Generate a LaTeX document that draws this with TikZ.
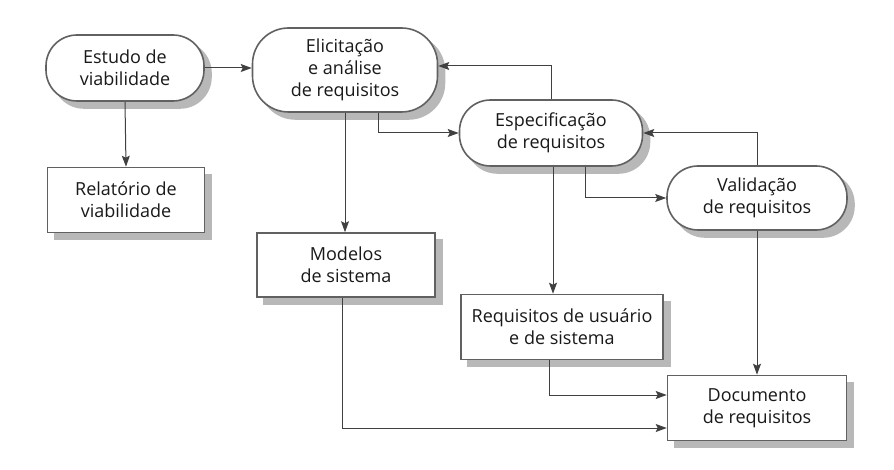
\documentclass[tikz,border=0pt]{standalone}
\usepackage{fontspec}
\setmainfont{Open Sans}
\usepackage{tikz}
\usetikzlibrary{arrows.meta}

\begin{document}
\begin{tikzpicture}[x=1pt,y=1pt,
    font=\fontsize{18}{22}\selectfont,
    shade box/.style={preaction={fill=black!28, draw=black!28, line width=1.6pt, transform canvas={xshift=7pt,yshift=-7pt}}},
    proc/.style={shade box, draw=black!62, line width=1.6pt, fill=white, text=black!90, align=center, rounded corners=31pt},
    doc/.style={shade box, draw=black!62, line width=1.6pt, fill=white, text=black!90, align=center},
    flow/.style={draw=black!75, line width=1pt, -{Stealth[length=11pt,width=8pt,inset=2pt]}}]
                \useasboundingbox (0,0) rectangle (894,-470);
                \node[proc, minimum width=158pt, minimum height=66pt] (estudo) at (125,-68) {Estudo de\\viabilidade};
                \node[proc, minimum width=185pt, minimum height=84pt, rounded corners=36pt] (elicit) at (345,-70) {Elicitação\\e análise\\de requisitos};
                \node[proc, minimum width=183pt, minimum height=66pt] (espec) at (551,-133) {Especificação\\de requisitos};
                \node[proc, minimum width=180pt, minimum height=64pt] (valid) at (757,-198) {Validação\\de requisitos};
                \node[doc, minimum width=157pt, minimum height=65pt] (relat) at (126,-200) {Relatório de\\viabilidade};
                \node[doc, minimum width=178pt, minimum height=64pt] (modelos) at (346,-265) {Modelos\\de sistema};
                \node[doc, minimum width=202pt, minimum height=65pt, inner xsep=4pt] (reqs) at (562,-327) {Requisitos de usuário\\e de sistema};
                \node[doc, minimum width=179pt, minimum height=65pt] (docreq) at (757,-408) {Documento\\de requisitos};
                \draw[flow] (estudo.east) -- (elicit.west |- estudo.east);
                \draw[flow] (estudo.south) -- (relat.north);
                \draw[flow] (elicit.south) -- (elicit.south |- modelos.north);
                \draw[flow] ([xshift=33pt]elicit.south) |- (espec.west);
                \draw[flow] (espec.north) |- ([yshift=4pt]elicit.east);
                \draw[flow] ([xshift=34pt]espec.south) |- (valid.west);
                \draw[flow] (valid.north) |- (espec.east);
                \draw[flow] ([xshift=2pt]espec.south) -- ([xshift=2pt]espec.south |- reqs.north);
                \draw[flow] (valid.south) -- (docreq.north);
                \draw[flow] ([xshift=-13pt]reqs.south) |- ([yshift=13pt]docreq.west);
                \draw[flow] ([xshift=-4pt]modelos.south) |- ([yshift=-20pt]docreq.west);
            \end{tikzpicture}
\end{document}
